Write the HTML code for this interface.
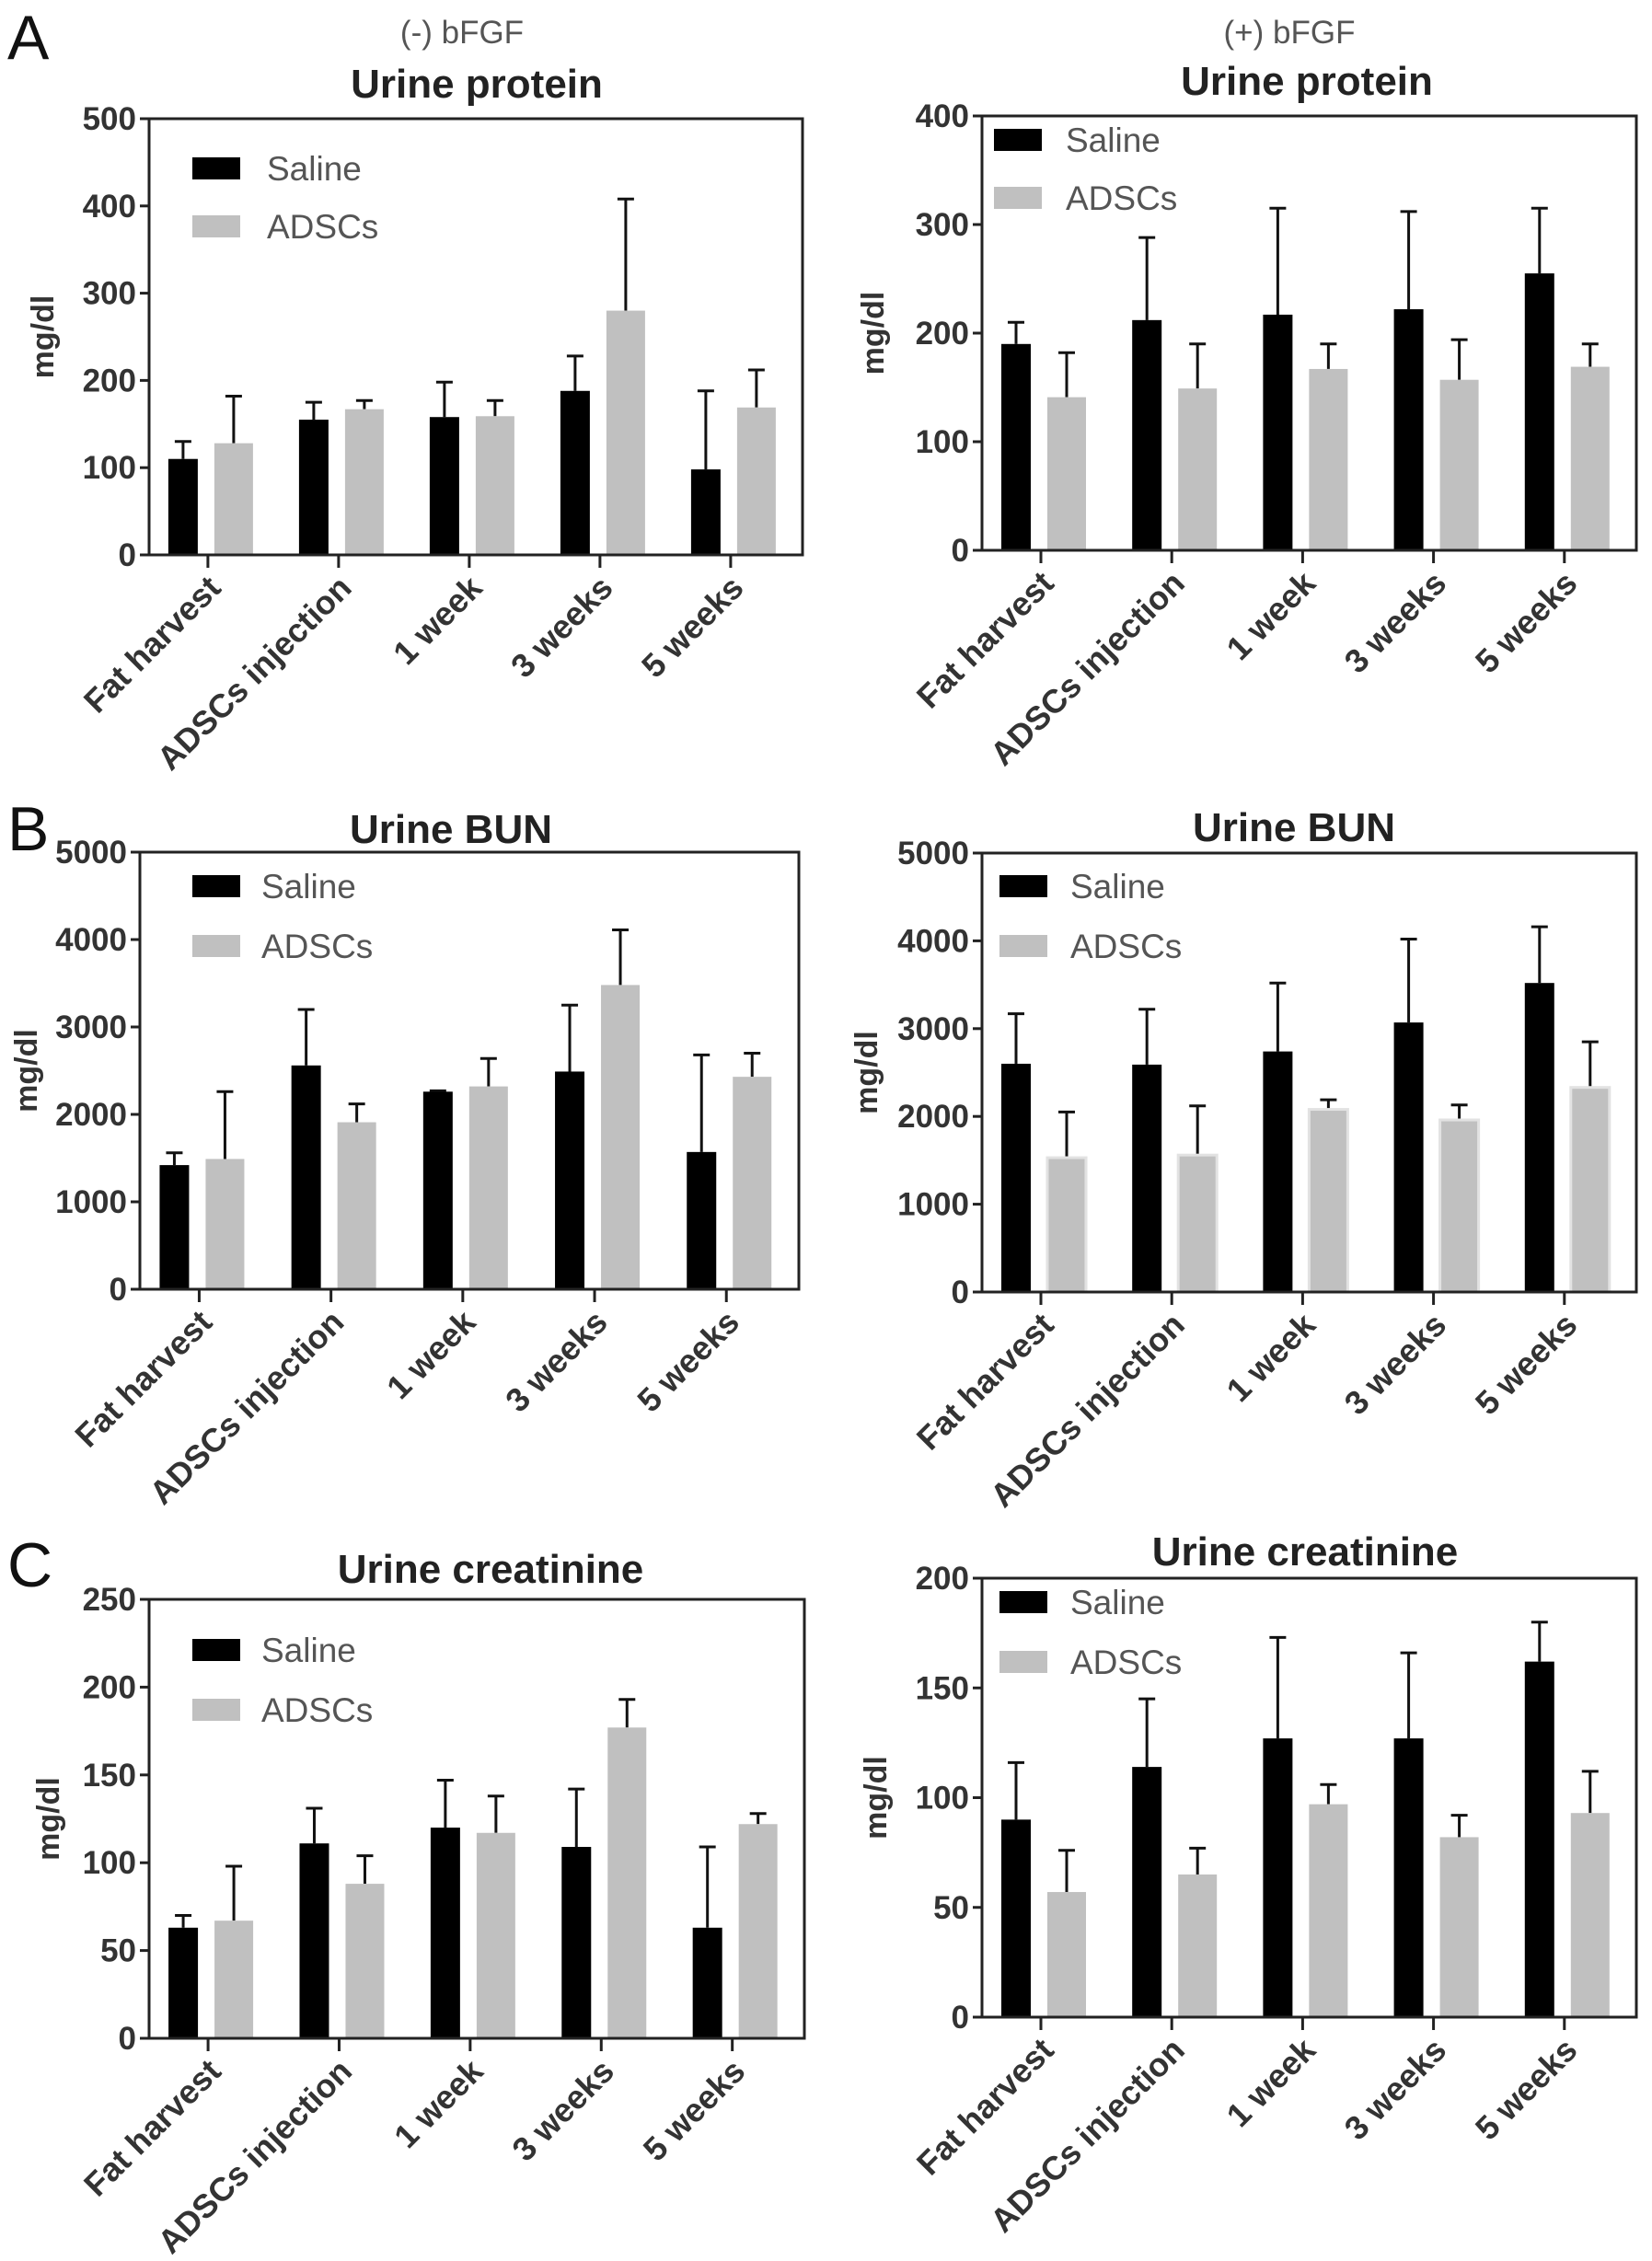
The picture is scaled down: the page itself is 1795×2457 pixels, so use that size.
<!DOCTYPE html>
<html><head><meta charset="utf-8"><style>
html,body{margin:0;padding:0;background:#fff}
svg{display:block}
text{font-family:"Liberation Sans",Arial,sans-serif}
</style></head><body>
<svg id="fig" width="1795" height="2457" viewBox="0 0 1795 2457" xmlns="http://www.w3.org/2000/svg">
<text x="8" y="64" font-size="68" fill="#111">A</text>
<text x="8" y="924" font-size="68" fill="#111">B</text>
<text x="8" y="1724" font-size="68" fill="#111">C</text>
<text x="502" y="47" font-size="35" fill="#555" text-anchor="middle">(-) bFGF</text>
<text x="1401" y="47" font-size="35" fill="#555" text-anchor="middle">(+) bFGF</text>
</svg>
<script>
const categories = ["Fat harvest","ADSCs injection","1 week","3 weeks","5 weeks"];
const seriesNames = ["Saline","ADSCs"];
// A left: protein (-) bFGF
const aLeftSaline = [110,155,158,188,98];
const aLeftSalineErr = [130,175,198,228,188];
const aLeftAdscs = [128,167,159,280,169];
const aLeftAdscsErr = [182,177,177,408,212];
const aLeftTicks = [0,100,200,300,400,500];
// A right: protein (+) bFGF
const aRightSaline = [190,212,217,222,255];
const aRightSalineErr = [210,288,315,312,315];
const aRightAdscs = [141,149,167,157,169];
const aRightAdscsErr = [182,190,190,194,190];
const aRightTicks = [0,100,200,300,400];
// B left: BUN (-)
const bLeftSaline = [1420,2560,2260,2490,1570];
const bLeftSalineErr = [1560,3200,2270,3250,2680];
const bLeftAdscs = [1490,1910,2320,3480,2430];
const bLeftAdscsErr = [2260,2120,2640,4110,2700];
const bLeftTicks = [0,1000,2000,3000,4000,5000];
// B right: BUN (+)
const bRightSaline = [2600,2590,2740,3070,3520];
const bRightSalineErr = [3170,3220,3520,4020,4160];
const bRightAdscs = [1530,1560,2080,1960,2330];
const bRightAdscsErr = [2050,2120,2190,2130,2850];
const bRightTicks = [0,1000,2000,3000,4000,5000];
// C left: creatinine (-)
const cLeftSaline = [63,111,120,109,63];
const cLeftSalineErr = [70,131,147,142,109];
const cLeftAdscs = [67,88,117,177,122];
const cLeftAdscsErr = [98,104,138,193,128];
const cLeftTicks = [0,50,100,150,200,250];
// C right: creatinine (+)
const cRightSaline = [90,114,127,127,162];
const cRightSalineErr = [116,145,173,166,180];
const cRightAdscs = [57,65,97,82,93];
const cRightAdscsErr = [76,77,106,92,112];
const cRightTicks = [0,50,100,150,200];

const NS = "http://www.w3.org/2000/svg";
const svg = document.getElementById('fig');
function mk(tag, attrs, parent, txt){
  const e = document.createElementNS(NS, tag);
  for (const k in attrs) e.setAttribute(k, attrs[k]);
  if (txt !== undefined) e.textContent = txt;
  (parent||svg).appendChild(e);
  return e;
}
function panel(cfg){
  const g = mk('g', {});
  
  
  const max = cfg.ticks[cfg.ticks.length-1];
  const y = v => cfg.B - (v/max)*(cfg.B-cfg.T);
  const bw = (cfg.R-cfg.L)/categories.length;
  const xc = i => cfg.L + (i+0.45)*bw;
  const t = mk('text', {x:cfg.tx, y:cfg.ty, 'font-size':44, 'font-weight':'bold', fill:'#222', 'text-anchor':'middle'}, g, cfg.title);
  
  
  const yl = mk('text', {x:0, y:0, 'font-size':34, 'font-weight':'bold', fill:'#333', 'text-anchor':'middle', transform:`translate(${cfg.ylx},${(cfg.T+cfg.B)/2}) rotate(-90)`}, g, 'mg/dl');
  
  
  const drawBar = (vals, errs, off, w, fill, stroke, nm) => {
    vals.forEach((v,i)=>{
      const cx = xc(i)+off;
      const eb = mk('line', {x1:cx, x2:cx, y1:y(v), y2:y(errs[i]), stroke:'#111', 'stroke-width':3}, g);
      
      
      const cap = mk('line', {x1:cx-9, x2:cx+9, y1:y(errs[i]), y2:y(errs[i]), stroke:'#111', 'stroke-width':3}, g);
      
      
      const r = mk('rect', {x:cx-w/2, y:y(v), width:w, height:y(0)-y(v), fill:fill}, g);
      if (stroke) { r.setAttribute('stroke', stroke); r.setAttribute('stroke-width', 3); }
      
      
    });
  };
  drawBar(cfg.s, cfg.se, -27, 32, '#000', null, 'saline');
  drawBar(cfg.a, cfg.ae, 28, 42, '#c0c0c0', cfg.outline ? '#e2e2e2' : null, 'adscs');
  const fr = mk('rect', {x:cfg.L, y:cfg.T, width:cfg.R-cfg.L, height:cfg.B-cfg.T, fill:'none', stroke:'#222', 'stroke-width':3}, g);
  
  
  cfg.ticks.forEach(v=>{
    const tl = mk('line', {x1:cfg.L-10, x2:cfg.L, y1:y(v), y2:y(v), stroke:'#222', 'stroke-width':3}, g);
    
    
    const tx = mk('text', {x:cfg.L-14, y:y(v)+12, 'font-size':35, 'font-weight':'bold', fill:'#333', 'text-anchor':'end'}, g, String(v));
    
    
  });
  categories.forEach((c,i)=>{
    const x = xc(i);
    const tl = mk('line', {x1:x, x2:x, y1:cfg.B, y2:cfg.B+14, stroke:'#222', 'stroke-width':3}, g);
    
    
    const tx = mk('text', {x:0, y:0, 'font-size':36, 'font-weight':'bold', fill:'#333', 'text-anchor':'end', transform:`translate(${x+16},${cfg.B+38}) rotate(-45)`}, g, c);
    
    
  });
  [['Saline','#000',cfg.l1],['ADSCs','#c0c0c0',cfg.l2]].forEach(([n,col,cy])=>{
    const r = mk('rect', {x:cfg.lbx, y:cy-12, width:52, height:24, fill:col}, g);
    
    
    const tx = mk('text', {x:cfg.ltx, y:cy+13, 'font-size':37, fill:'#555'}, g, n);
    
    
  });
}
panel({name:'chart-protein-minus', title:'Urine protein', L:162,R:872,T:129,B:603, ticks:aLeftTicks,
  s:aLeftSaline,se:aLeftSalineErr,a:aLeftAdscs,ae:aLeftAdscsErr, tx:518,ty:106, ylx:58, lbx:209,ltx:290,l1:183,l2:246});
panel({name:'chart-protein-plus', title:'Urine protein', L:1067,R:1778,T:126,B:598, ticks:aRightTicks,
  s:aRightSaline,se:aRightSalineErr,a:aRightAdscs,ae:aRightAdscsErr, tx:1420,ty:103, ylx:960, lbx:1080,ltx:1158,l1:152,l2:215});
panel({name:'chart-bun-minus', title:'Urine BUN', L:152,R:868,T:926,B:1401, ticks:bLeftTicks,
  s:bLeftSaline,se:bLeftSalineErr,a:bLeftAdscs,ae:bLeftAdscsErr, tx:490,ty:916, ylx:40, lbx:209,ltx:284,l1:963,l2:1028});
panel({name:'chart-bun-plus', title:'Urine BUN', L:1067,R:1778,T:927,B:1404, ticks:bRightTicks, outline:true,
  s:bRightSaline,se:bRightSalineErr,a:bRightAdscs,ae:bRightAdscsErr, tx:1406,ty:914, ylx:953, lbx:1086,ltx:1163,l1:963,l2:1028});
panel({name:'chart-creatinine-minus', title:'Urine creatinine', L:162,R:874,T:1738,B:2215, ticks:cLeftTicks,
  s:cLeftSaline,se:cLeftSalineErr,a:cLeftAdscs,ae:cLeftAdscsErr, tx:533,ty:1720, ylx:64, lbx:209,ltx:284,l1:1793,l2:1858});
panel({name:'chart-creatinine-plus', title:'Urine creatinine', L:1067,R:1778,T:1715,B:2192, ticks:cRightTicks,
  s:cRightSaline,se:cRightSalineErr,a:cRightAdscs,ae:cRightAdscsErr, tx:1418,ty:1701, ylx:963, lbx:1086,ltx:1163,l1:1741,l2:1806});
</script>
</body></html>
